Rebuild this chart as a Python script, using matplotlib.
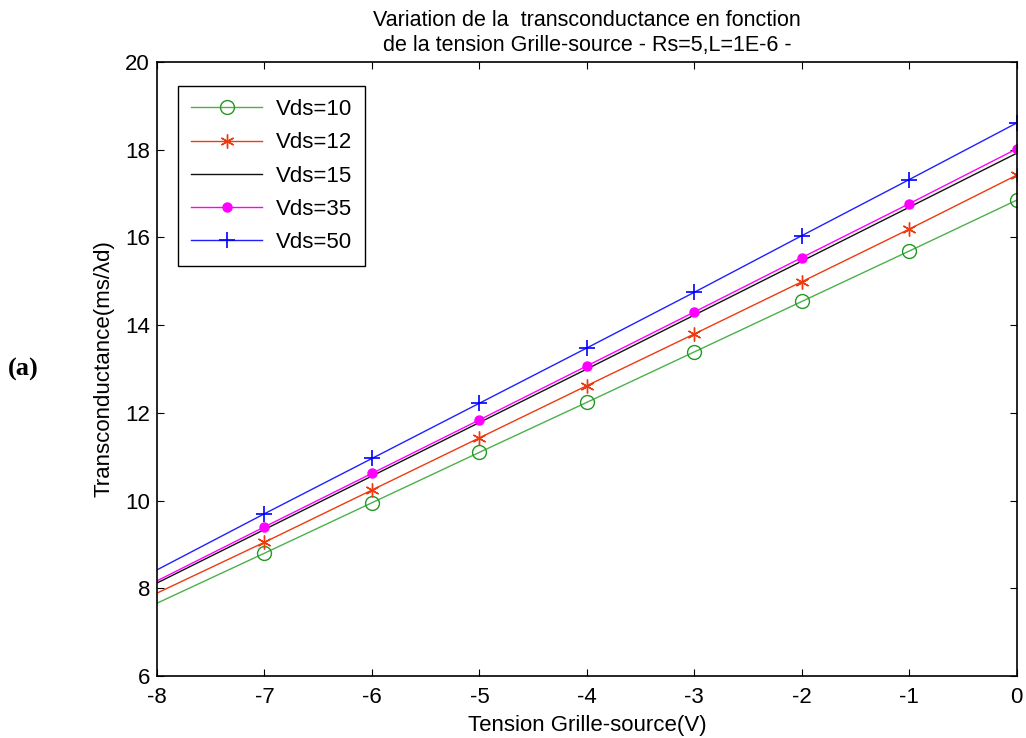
import matplotlib
matplotlib.use('Agg')
import matplotlib.pyplot as plt

plt.rcParams['font.family'] = ['Liberation Sans', 'DejaVu Sans']
plt.rcParams['axes.unicode_minus'] = False

# Grid-source voltage (V)
vgs = [-8, -7, -6, -5, -4, -3, -2, -1, 0]

# Transconductance for each Vds
gm_vds10 = [7.66, 8.80, 9.95, 11.10, 12.24, 13.39, 14.54, 15.69, 16.85]
gm_vds12 = [7.89, 9.05, 10.24, 11.43, 12.62, 13.80, 14.99, 16.19, 17.42]
gm_vds15 = [8.12, 9.34, 10.56, 11.78, 13.00, 14.23, 15.46, 16.69, 17.92]
gm_vds35 = [8.17, 9.40, 10.62, 11.84, 13.07, 14.30, 15.54, 16.77, 18.02]
gm_vds50 = [8.42, 9.70, 10.96, 12.22, 13.48, 14.75, 16.04, 17.32, 18.61]

labels = ['Vds=10', 'Vds=12', 'Vds=15', 'Vds=35', 'Vds=50']

fig = plt.figure(figsize=(10.26, 7.38), dpi=100)
ax = fig.add_axes([0.153, 0.084, 0.838, 0.832])

marks = list(range(1, len(vgs)))
ax.plot(vgs, gm_vds10, color='#4cb04c', lw=1, marker='o', ms=10, mfc='none',
        mec='#229922', markevery=marks, label=labels[0])
ax.plot(vgs, gm_vds12, color='#ee3a10', lw=1, marker=(6, 2, 0), ms=10,
        mec='#ee3a10', markevery=marks, label=labels[1])
ax.plot(vgs, gm_vds15, color='#111111', lw=1, label=labels[2])
ax.plot(vgs, gm_vds35, color='#ff00ff', lw=1, marker='o', ms=6.5,
        mec='#ff00ff', markevery=marks, label=labels[3])
ax.plot(vgs, gm_vds50, color='#2020ff', lw=1, marker='+', ms=11, mew=1.2,
        mec='#0000ff', markevery=marks, label=labels[4])

ax.set_xlim(-8, 0)
ax.set_ylim(6, 20)
ax.set_xticks(range(-8, 1))
ax.set_yticks(range(6, 21, 2))
ax.tick_params(direction='in', top=True, right=True, labelsize=16, length=5)
ax.tick_params(axis='x', pad=8)
ax.tick_params(axis='y', pad=5)
for s in ax.spines.values():
    s.set_linewidth(1.2)

ax.set_xlabel('Tension Grille-source(V)', fontsize=16, labelpad=5)
ax.set_ylabel('Transconductance(ms/\u03bbd)', fontsize=16, labelpad=8)
ax.set_title('Variation de la  transconductance en fonction\n'
             'de la tension Grille-source - Rs=5,L=1E-6 -', fontsize=15.5,
             linespacing=1.25, pad=8)

leg = ax.legend(loc='upper left', bbox_to_anchor=(0.0244, 0.961), fontsize=16,
                fancybox=False, edgecolor='black', framealpha=1,
                borderaxespad=0, handlelength=3.2, handletextpad=0.6,
                borderpad=0.6, labelspacing=0.55)
leg.get_frame().set_linewidth(1.0)

fig.text(0.008, 0.5, '(a)', fontsize=19, fontweight='bold',
         family='Liberation Serif', va='center')

fig.savefig('out.png', dpi=100)
